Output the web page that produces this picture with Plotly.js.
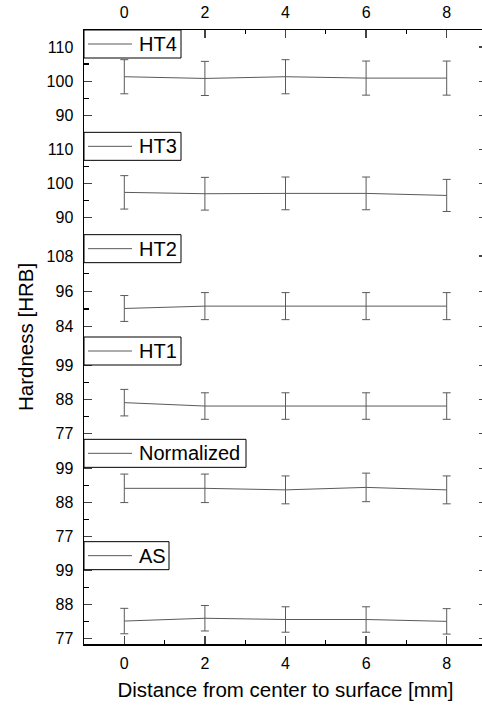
<!DOCTYPE html>
<html>
<head>
<meta charset="utf-8">
<script src="https://cdn.plot.ly/plotly-3.0.1.min.js"></script>
<style>
html, body { margin: 0; padding: 0; overflow: hidden; background: #fff; }
#chart { width: 497px; height: 706px; }
</style>
</head>
<body>
<div id="chart"></div>
<script>
// Distance from center to surface [mm]
const distance = [0, 2, 4, 6, 8];
// Panel names (bottom to top)
const panelNames = ["AS", "Normalized", "HT1", "HT2", "HT3", "HT4"];
// Hardness values [HRB] and error (std) per panel
const hardnessAS = [82.7, 83.6, 83.2, 83.2, 82.6];
const errorAS = [4.1, 4.1, 4.1, 4.1, 4.1];
const hardnessNormalized = [92.5, 92.5, 92.0, 92.8, 92.0];
const errorNormalized = [4.6, 4.6, 4.5, 4.6, 4.5];
const hardnessHT1 = [86.9, 85.8, 85.8, 85.8, 85.8];
const errorHT1 = [4.3, 4.3, 4.3, 4.3, 4.3];
const hardnessHT2 = [90.2, 91.0, 91.0, 91.0, 91.0];
const errorHT2 = [4.4, 4.6, 4.6, 4.6, 4.6];
const hardnessHT3 = [97.4, 97.0, 97.1, 97.1, 96.5];
const errorHT3 = [4.9, 4.8, 4.8, 4.8, 4.7];
const hardnessHT4 = [101.3, 100.8, 101.3, 100.9, 100.9];
const errorHT4 = [5.0, 5.0, 5.0, 5.0, 5.0];
// Y-axis ranges and tick steps per panel
const yRanges = [[75.3, 108.3], [75.3, 108.3], [75, 108.2], [80.5, 115.3], [85, 115], [85, 115]];
const yTickSteps = [11, 11, 11, 12, 10, 10];

const seriesValues = [hardnessAS, hardnessNormalized, hardnessHT1, hardnessHT2, hardnessHT3, hardnessHT4];
const seriesErrors = [errorAS, errorNormalized, errorHT1, errorHT2, errorHT3, errorHT4];

// legend box widths in px (style)
const legendBoxWidths = [85, 162, 97, 97, 97, 97];

const lineColor = "#5a5a5a";
const font = "Liberation Sans, Arial, sans-serif";

const traces = [];
const shapes = [];
const annotations = [{
  text: "Hardness [HRB]", textangle: -90, xref: "paper", yref: "paper",
  x: 0, y: 0.5, xanchor: "center", yanchor: "middle", xshift: -59,
  showarrow: false, font: { size: 20.5 }
}];
const layout = {
  width: 497, height: 706,
  margin: { l: 84, r: 10, t: 30, b: 62 },
  paper_bgcolor: "#fff", plot_bgcolor: "#fff",
  font: { family: font, size: 16, color: "#000" },
  showlegend: false,
  xaxis: {
    range: [-1, 9], tickvals: distance, ticks: "inside", ticklen: 8, tickwidth: 1.3,
    showline: true, linecolor: "#000", linewidth: 1.5, showgrid: false, zeroline: false,
    anchor: "y", ticklabelstandoff: 4,
    minor: { ticks: "inside", dtick: 1, ticklen: 4, tickcolor: "#000" },
    title: { text: "Distance from center to surface [mm]", font: { size: 20.5 }, standoff: 12 }
  },
  xaxis2: {
    range: [-1, 9], tickvals: distance, ticks: "inside", ticklen: 8, tickwidth: 1.3,
    showline: true, linecolor: "#000", linewidth: 1.5, showgrid: false, zeroline: false,
    overlaying: "x", side: "top", anchor: "y6", matches: "x", ticklabelstandoff: 4,
    minor: { ticks: "inside", dtick: 1, ticklen: 4, tickcolor: "#000" }
  },
  shapes: shapes,
  annotations: annotations
};

for (let i = 0; i < 6; i++) {
  const yName = i === 0 ? "y" : "y" + (i + 1);
  const yKey = i === 0 ? "yaxis" : "yaxis" + (i + 1);
  const top = (i + 1) / 6;
  traces.push({
    type: "scatter", mode: "lines", x: distance, y: seriesValues[i],
    name: panelNames[i], xaxis: "x", yaxis: yName,
    line: { color: lineColor, width: 1 },
    error_y: { type: "data", array: seriesErrors[i], visible: true, color: lineColor, thickness: 1, width: 4 },
    hoverinfo: "skip"
  });
  layout[yKey] = {
    domain: [i / 6, top], range: yRanges[i], anchor: "x",
    tick0: 0, dtick: yTickSteps[i], ticks: "inside", ticklen: 8, tickwidth: 1.3,
    showline: true, linecolor: "#000", linewidth: 1.5, mirror: "ticks",
    showgrid: false, zeroline: false, ticklabelstandoff: 6,
    minor: { ticks: "inside", dtick: yTickSteps[i] / 2, ticklen: 5, tickcolor: "#000" }
  };
  // legend box
  shapes.push({
    type: "rect", xref: "paper", yref: "paper", layer: "above",
    xsizemode: "pixel", ysizemode: "pixel", xanchor: 0, yanchor: top,
    x0: 0, x1: legendBoxWidths[i], y0: 0, y1: -28,
    line: { color: "#000", width: 1 }, fillcolor: "#fff"
  });
  shapes.push({
    type: "line", xref: "paper", yref: "paper", layer: "above",
    xsizemode: "pixel", ysizemode: "pixel", xanchor: 0, yanchor: top,
    x0: 4, x1: 48, y0: -14, y1: -14,
    line: { color: lineColor, width: 1 }
  });
  annotations.push({
    text: panelNames[i], xref: "paper", yref: "paper", x: 0, y: top,
    xanchor: "left", yanchor: "middle", xshift: 53, yshift: -14,
    showarrow: false, font: { size: 20 }
  });
}
// dummy trace to anchor the top axis
traces.push({ type: "scatter", mode: "markers", x: [null], y: [null], xaxis: "x2", yaxis: "y6", showlegend: false, hoverinfo: "skip" });

Plotly.newPlot("chart", traces, layout, { displayModeBar: false, staticPlot: true });
</script>
</body>
</html>
